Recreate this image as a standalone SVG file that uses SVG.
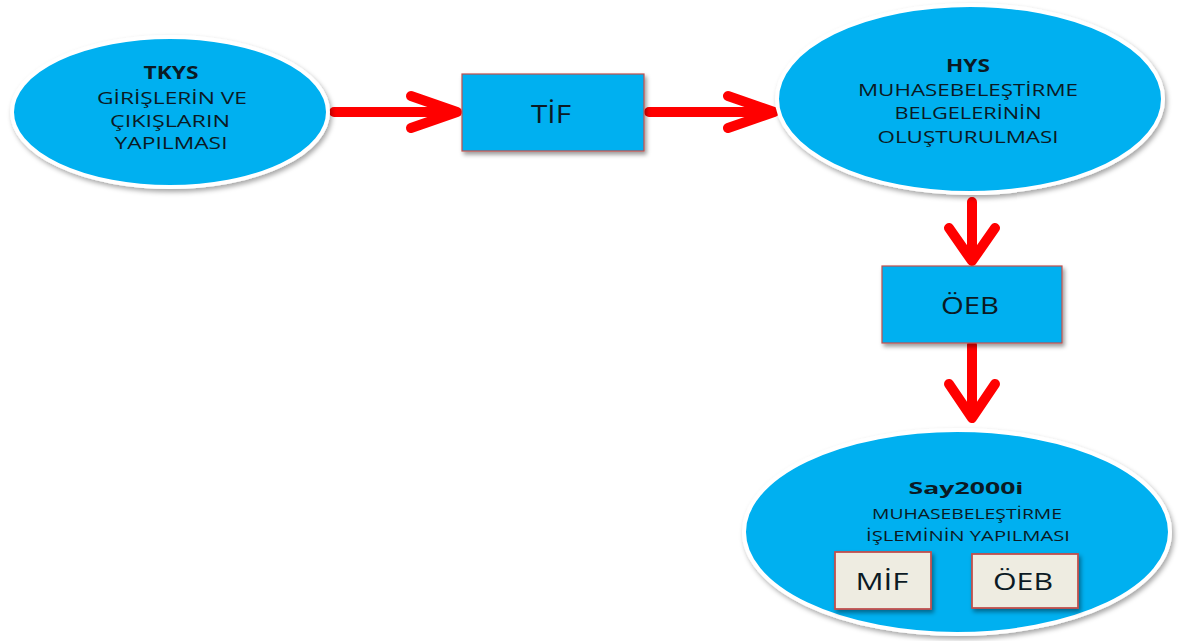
<svg xmlns="http://www.w3.org/2000/svg" width="1196" height="641" viewBox="0 0 1196 641">
<defs>
<style>
.ell{fill:#00b0f0;stroke:#ffffff;stroke-width:4;filter:url(#sh)}
.box{fill:#00b0f0;stroke:#c0504d;stroke-width:1.2;filter:url(#sh2)}
.sbox{fill:#eeece1;stroke:#c0504d;stroke-width:1.8;filter:url(#sh2)}
.t{font-family:"Open Sans","Liberation Sans",sans-serif;fill:#0b1a24;text-anchor:middle}
.b{font-weight:bold}
.arr{fill:none;stroke:#ff0000;stroke-width:10;stroke-linecap:round;stroke-linejoin:round}
</style>
<filter id="sh" x="-10%" y="-10%" width="125%" height="125%">
<feDropShadow dx="2" dy="3" stdDeviation="2.5" flood-color="#000" flood-opacity="0.35"/>
</filter>
<filter id="sh2" x="-10%" y="-10%" width="125%" height="130%">
<feDropShadow dx="2" dy="3" stdDeviation="2" flood-color="#000" flood-opacity="0.4"/>
</filter>
</defs>
<rect width="1196" height="641" fill="#ffffff"/>

<g id="connectors">
<path class="arr" d="M334 112 H455 M411 96 L457 112 L411 128"/>
<path class="arr" d="M649 112 H772 M728 96 L774 112 L728 128"/>
<path class="arr" d="M972 202 V258 M949 228 L972 261 L995 228"/>
<path class="arr" d="M972 345 V416 M949 384 L972 418 L995 384"/>
</g>

<g id="tkys">
<ellipse class="ell" cx="170" cy="112" rx="158" ry="75"/>
<text class="t b" x="171" y="79" font-size="17" textLength="55" lengthAdjust="spacingAndGlyphs">TKYS</text>
<text class="t" x="172" y="104" font-size="15.5" textLength="150" lengthAdjust="spacingAndGlyphs">GİRİŞLERİN VE</text>
<text class="t" x="170" y="127" font-size="15.5" textLength="120" lengthAdjust="spacingAndGlyphs">ÇIKIŞLARIN</text>
<text class="t" x="171" y="149" font-size="15.5" textLength="113" lengthAdjust="spacingAndGlyphs">YAPILMASI</text>
</g>

<g id="tif">
<rect class="box" x="462" y="74" width="182" height="77"/>
<text class="t" x="551" y="123" font-size="25" textLength="40" lengthAdjust="spacingAndGlyphs">TİF</text>
</g>

<g id="hys">
<ellipse class="ell" cx="970" cy="99" rx="193" ry="94"/>
<text class="t b" x="968" y="72" font-size="17" textLength="44" lengthAdjust="spacingAndGlyphs">HYS</text>
<text class="t" x="968" y="96" font-size="15.5" textLength="220" lengthAdjust="spacingAndGlyphs">MUHASEBELEŞTİRME</text>
<text class="t" x="968" y="119" font-size="15.5" textLength="147" lengthAdjust="spacingAndGlyphs">BELGELERİNİN</text>
<text class="t" x="968" y="143" font-size="15.5" textLength="181" lengthAdjust="spacingAndGlyphs">OLUŞTURULMASI</text>
</g>

<g id="oeb">
<rect class="box" x="882" y="266" width="180" height="77"/>
<text class="t" x="970" y="314" font-size="24" textLength="58" lengthAdjust="spacingAndGlyphs">ÖEB</text>
</g>

<g id="say2000i">
<ellipse class="ell" cx="957" cy="532" rx="213" ry="102"/>
<text class="t b" x="966" y="494" font-size="16.5" textLength="115" lengthAdjust="spacingAndGlyphs">Say2000i</text>
<text class="t" x="967" y="519" font-size="14" textLength="190" lengthAdjust="spacingAndGlyphs">MUHASEBELEŞTİRME</text>
<text class="t" x="968" y="541" font-size="14" textLength="204" lengthAdjust="spacingAndGlyphs">İŞLEMİNİN  YAPILMASI</text>
<g id="mif">
<rect class="sbox" x="835" y="552" width="96" height="57"/>
<text class="t" x="882" y="590" font-size="24" textLength="53" lengthAdjust="spacingAndGlyphs">MİF</text>
</g>
<g id="oeb2">
<rect class="sbox" x="972" y="554" width="106" height="54"/>
<text class="t" x="1023" y="590" font-size="24" textLength="60" lengthAdjust="spacingAndGlyphs">ÖEB</text>
</g>
</g>
</svg>
